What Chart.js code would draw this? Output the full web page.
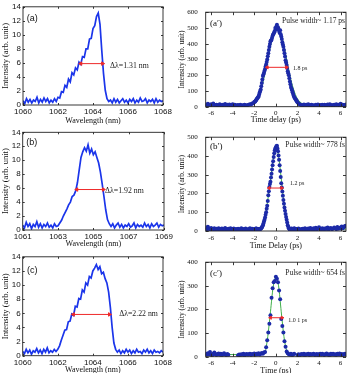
<!DOCTYPE html>
<html><head><meta charset="utf-8">
<script src="https://cdn.jsdelivr.net/npm/chart.js@4"></script>
<style>
html,body{margin:0;padding:0;background:#fff;}
#wrap{position:relative;width:352px;height:373px;overflow:hidden;background:#fff;}
canvas{position:absolute;}
</style></head><body>
<div id="wrap">
<canvas id="pa" width="176" height="125" style="left:0;top:0"></canvas>
<canvas id="pb" width="176" height="125" style="left:0;top:125px"></canvas>
<canvas id="pc" width="176" height="125" style="left:0;top:250px"></canvas>
<canvas id="pa2" width="176" height="125" style="left:176px;top:0"></canvas>
<canvas id="pb2" width="176" height="125" style="left:176px;top:125px"></canvas>
<canvas id="pc2" width="176" height="125" style="left:176px;top:250px"></canvas>
</div>
<script>
// ===== Spectra: intensity sampled every 0.1 nm from the start wavelength =====
const specA_start = 1060, specA_step = 0.1;
const specA = [
0.6,0.2,0.9,0.4,0.8,0.3,0.7,0.5,1.1,0.3,
0.8,0.4,1.0,0.5,0.9,0.3,0.7,0.4,0.9,0.5,
1.1,1.0,1.9,1.8,2.8,2.5,3.7,3.3,4.6,4.3,
5.3,5.0,6.1,5.8,6.9,6.8,8.0,8.0,9.4,9.5,
10.9,11.3,12.6,13.1,11.5,7.8,4.5,2.1,0.9,0.5,
0.7,0.3,0.9,0.4,0.8,0.3,0.6,0.9,0.4,0.7,
0.3,0.8,0.5,0.9,0.3,0.7,0.4,1.0,0.5,0.6,
0.9,0.3,0.7,0.5,0.8,0.3,0.9,0.4,0.7,0.5,
0.6];
const specB_start = 1061, specB_step = 0.1;
const specB = [
0.7,0.3,1.1,0.5,0.9,0.2,0.8,0.5,1.2,0.4,
0.9,0.3,0.8,0.5,1.0,0.4,0.7,0.3,0.9,0.5,
0.6,1.0,1.4,2.0,2.5,3.0,3.6,4.0,4.8,5.0,
5.6,6.8,8.6,10.4,11.2,11.8,11.3,12.2,11.0,11.6,
10.8,11.2,10.4,9.6,8.3,6.6,4.8,2.9,1.5,0.9,
0.5,0.9,0.3,0.7,1.0,0.4,0.8,0.3,0.7,0.5,
0.9,0.4,0.6,1.0,0.3,0.8,0.5,0.7,0.4,1.0,
0.5,0.8,0.3,0.9,0.5,0.7,1.0,0.4,0.8,0.6,
0.7];
const specC_start = 1060, specC_step = 0.1;
const specC = [
0.6,0.3,0.9,0.4,0.8,0.2,0.7,0.5,1.0,0.4,
0.8,0.3,0.9,0.5,1.1,0.4,0.7,0.5,0.9,0.6,
0.9,1.4,2.2,2.9,3.6,3.7,4.8,4.9,5.9,5.7,
7.0,6.9,8.1,8.0,9.3,9.0,10.3,10.0,11.2,11.0,
12.0,12.4,12.9,12.2,12.6,11.6,11.8,10.9,10.3,9.0,
6.8,4.0,1.8,0.9,0.5,0.8,0.3,0.7,0.4,0.9,
0.5,0.8,0.3,0.7,0.4,0.9,0.5,0.6,0.3,0.8,
0.5,0.9,0.4,0.7,0.3,0.8,0.5,0.6,0.4,0.7,
0.5];
// FWHM markers (wavelength ends, level)
const fwhmA_x = [1063.3, 1064.55], fwhmA_y = [5.9, 5.9];
const fwhmB_x = [1064.06, 1065.57], fwhmB_y = [5.8, 5.8];
const fwhmC_x = [1062.89, 1064.95], fwhmC_y = [5.84, 5.84];

// ===== Autocorrelation traces: sampled every 0.1 ps from start =====
const acA_start = -6.5, acA_step = 0.1;
const acA = [
14,9,18,11,7,15,10,21,12,8,
13,10,6,16,11,8,12,6,17,9,
12,7,14,6,10,15,8,12,5,10,
11,6,13,8,10,7,12,9,6,11,
12,15,14,20,22,30,35,45,55,65,
90,110,150,195,215,240,268,300,340,380,
415,425,450,465,480,490,520,505,480,485,
445,410,380,340,295,265,225,200,160,125,
105,80,62,50,40,28,20,15,12,8,
10,14,7,12,9,15,6,11,13,8,
10,6,12,9,14,7,11,8,13,6,
12,9,7,14,10,16,8,11,6,13,
9,15,7,12,10,18,8,13,11,9,
14];
const acAmid_start = -1.95, acAmid_step = 0.1;
const acAmid = [
32,40,50,60,78,100,130,172,205,228,
255,284,320,360,398,420,438,458,472,500,
510,500,492,470,460,430,395,360,318,280,
245,212,180,142,115,92,70,55,45,34];
const fitA_x = [-6.5,-3,-2.5,-2,-1.75,-1.5,-1.25,-1,-0.75,-0.5,-0.25,0,0.25,0.5,0.75,1,1.25,1.5,1.75,2,2.5,3,6.5];
const fitA_y = [9,9,13,30,52,88,140,215,300,385,455,495,498,458,388,300,215,142,88,50,17,10,9];

const acB_start = -6.5, acB_step = 0.1;
const acB = [
18,10,22,13,8,16,11,7,14,9,
12,6,15,10,8,13,7,11,16,9,
6,12,9,14,7,10,13,6,11,8,
12,7,10,15,8,11,6,13,9,7,
10,14,8,12,7,11,9,13,6,10,
8,12,18,30,50,72,100,135,190,235,
262,305,350,395,430,445,455,425,380,320,
255,210,165,125,90,60,30,15,8,12,
6,10,14,8,11,7,13,9,5,10,
12,8,15,10,6,13,9,16,11,8,
14,10,17,9,12,20,11,8,15,12,
9,14,11,18,8,13,16,10,12,19,
14,10,21,12,17,13,24,15,20,26,
28];
const acBmid_start = -1.95, acBmid_step = 0.1;
const acBmid = [
9,13,7,11,10,12,15,24,40,60,
86,118,160,212,250,285,328,372,415,440,
452,440,402,350,288,232,188,145,108,75,
45,22,11,9,13,7,10,12,8,11];
const fitB_x = [-6.5,-1.5,-1.25,-1,-0.75,-0.5,-0.25,0,0.25,0.5,0.75,1,1.25,1.5,6.5];
const fitB_y = [10,10,22,70,165,270,380,448,400,280,150,65,20,10,10];

const acC_start = -6.5, acC_step = 0.1;
const acC = [
12,8,15,10,20,9,6,13,18,10,
7,11,14,8,12,6,10,15,9,7,
11,8,null,null,null,null,null,null,null,null,
6,9,7,10,8,12,6,9,11,8,
10,13,7,11,9,14,8,12,10,15,
9,12,16,13,18,20,40,70,102,140,
175,250,290,315,320,338,330,315,280,243,
160,130,102,65,42,22,15,10,8,12,
6,9,12,null,null,7,10,5,9,11,
8,12,6,10,9,13,7,11,8,10,
12,7,9,11,6,10,13,8,12,9,
7,11,14,8,10,6,12,9,13,8,
10,7,12,9,14,8,11,6,10,12,
9];
const fitC_x = [-6.5,-1.5,-1.25,-1,-0.75,-0.5,-0.25,0,0.25,0.5,0.75,1,1.25,1.5,6.5];
const fitC_y = [9,9,10,20,85,190,295,335,300,190,85,25,10,9,9];

const fwhmA2_x = [-0.8, 1.0], fwhmA2_y = [250, 250];
const fwhmB2_x = [-0.63, 0.55], fwhmB2_y = [229, 229];
const fwhmC2_x = [-0.5, 0.58], fwhmC2_y = [165, 165];

// ===== Tick labels =====
const wlTicksAC = [1060,1062,1064,1066,1068];
const wlTicksB = [1061,1063,1065,1067,1069];
const specYTicks = [0,2,4,6,8,10,12,14];
const delayTicks = [-6,-4,-2,0,2,4,6];
const acYTicksA = [0,100,200,300,400,500,600];
const acYTicksB = [0,100,200,300,400,500];
const acYTicksC = [0,100,200,300,400];

// ===== helpers =====
const SERIF = "'Liberation Serif','Times New Roman',serif";
const SANS = "'Liberation Sans',Arial,sans-serif";
const BLUE = '#1b35ea', DOT = '#1c2aa8', GREEN = '#3fae49', RED = '#ee2a2a';

function gridPts(start, step, vals){
  return vals.map((v,i)=>({x: Math.round((start + i*step)*1000)/1000, y: v}));
}
function pairPts(xs, ys){ return xs.map((x,i)=>({x: x, y: ys[i]})); }

function boxPlugin(len, color, width){
  return {id:'boxTicks', afterDraw(chart){
    const {ctx, chartArea:a, scales:{x, y}} = chart;
    ctx.save();
    ctx.strokeStyle = color; ctx.lineWidth = width;
    ctx.beginPath();
    x.ticks.forEach(t=>{ const p = Math.round(x.getPixelForValue(t.value))+0.5;
      ctx.moveTo(p, a.bottom); ctx.lineTo(p, a.bottom-len);
      ctx.moveTo(p, a.top); ctx.lineTo(p, a.top+len); });
    y.ticks.forEach(t=>{ const p = Math.round(y.getPixelForValue(t.value))+0.5;
      ctx.moveTo(a.left, p); ctx.lineTo(a.left+len, p);
      ctx.moveTo(a.right, p); ctx.lineTo(a.right-len, p); });
    ctx.stroke();
    ctx.strokeRect(a.left, a.top, a.right-a.left, a.bottom-a.top);
    ctx.restore();
  }};
}
function notesPlugin(items){
  return {id:'notes', afterDraw(chart){
    const {ctx, scales:{x, y}} = chart;
    ctx.save();
    items.forEach(n=>{
      ctx.font = n.font; ctx.fillStyle = n.color || '#222';
      ctx.textAlign = n.align || 'left'; ctx.textBaseline = 'middle';
      ctx.fillText(n.text, x.getPixelForValue(n.x), y.getPixelForValue(n.y));
    });
    ctx.restore();
  }};
}

function panel(id, p){
  new Chart(document.getElementById(id), {
    type: 'scatter',
    data: {datasets: p.datasets},
    options: {
      responsive:false, animation:false, devicePixelRatio:1,
      layout:{padding:{left:0, top:p.top, right:p.right, bottom:0}},
      plugins:{legend:{display:false}, tooltip:{enabled:false}},
      scales:{
        x:{type:'linear', min:p.xmin, max:p.xmax,
          afterBuildTicks: s=>{ s.ticks = p.xticks.map(v=>({value:v})); },
          afterFit: s=>{ s.height = p.xh; },
          grid:{display:false, drawTicks:false}, border:{display:false},
          ticks:{padding:p.xtp, font:p.tickFont, color:'#111', maxRotation:0, autoSkip:false, callback:v=>String(v)},
          title:{display:true, text:p.xtitle, color:'#111', font:{family:SERIF, size:8, lineHeight:1}, padding:{top:0, bottom:p.xtb}}},
        y:{type:'linear', min:p.ymin, max:p.ymax,
          afterBuildTicks: s=>{ s.ticks = p.yticks.map(v=>({value:v})); },
          afterFit: s=>{ s.width = p.yw; },
          grid:{display:false, drawTicks:false}, border:{display:false},
          ticks:{padding:p.ytp, font:p.tickFont, color:'#111', autoSkip:false, callback:v=>String(v)},
          title:{display:true, text:'Intensity (arb. unit)', color:'#111', font:{family:SERIF, size:p.ytSize, lineHeight:1}, padding:{top:p.ytt, bottom:0}}}
      }
    },
    plugins:[notesPlugin(p.notes), boxPlugin(p.tickLen, '#222', 0.9)]
  });
}

function spectrumSets(pts, fx, fy){
  return [
    {data: pts, showLine:true, borderColor:BLUE, borderWidth:1.7, pointRadius:0, order:2},
    {data: pairPts(fx, fy), showLine:true, borderColor:RED, backgroundColor:RED, borderWidth:1,
     pointStyle:'triangle', pointRadius:2, rotation:[270,90], order:0}
  ];
}
function acSets(dots, fx, fy, ax, ay){
  return [
    {data: pairPts(ax, ay), showLine:true, borderColor:RED, backgroundColor:RED, borderWidth:1,
     pointStyle:'triangle', pointRadius:1.8, rotation:[270,90], order:0},
    {data: dots, showLine:false, pointRadius:2, backgroundColor:DOT, borderWidth:0, order:1},
    {data: pairPts(fx, fy), showLine:true, borderColor:GREEN, borderWidth:1, pointRadius:0, cubicInterpolationMode:'monotone', order:2}
  ];
}

const leftCommon = {tickFont:{family:SANS, size:8}, xtp:2, ytp:2, ytSize:8.5, ytt:2, tickLen:2, ymin:0, ymax:14, yticks:specYTicks, xtitle:'Wavelength (nm)'};
const rightCommon = {tickFont:{family:SERIF, size:7}, xtp:2.5, ytp:8, ytSize:7.5, ytt:2.2, tickLen:3, xmin:-6.5, xmax:6.5, xticks:delayTicks, right:6, yw:29.7};

panel('pa', Object.assign({}, leftCommon, {
  top:6, right:13, yw:23, xh:20, xtb:0.5, xmin:1060, xmax:1068, xticks:wlTicksAC,
  datasets: spectrumSets(gridPts(specA_start, specA_step, specA), fwhmA_x, fwhmA_y),
  notes:[{text:'(a)', x:1060.22, y:12.4, font:'9px '+SANS, color:'#111'},
         {text:'\u0394\u03bb=1.31 nm', x:1064.97, y:5.6, font:'7.8px '+SERIF}]
}));
panel('pb', Object.assign({}, leftCommon, {
  top:7.3, right:12, yw:22.7, xh:20, xtb:2, xmin:1061, xmax:1069, xticks:wlTicksB,
  datasets: spectrumSets(gridPts(specB_start, specB_step, specB), fwhmB_x, fwhmB_y),
  notes:[{text:'(b)', x:1061.2, y:12.6, font:'9px '+SANS, color:'#111'},
         {text:'\u0394\u03bb=1.92 nm', x:1065.66, y:5.6, font:'7.8px '+SERIF}]
}));
panel('pc', Object.assign({}, leftCommon, {
  top:6.7, right:13, yw:22.7, xh:19.3, xtb:1, xmin:1060, xmax:1068, xticks:wlTicksAC,
  datasets: spectrumSets(gridPts(specC_start, specC_step, specC), fwhmC_x, fwhmC_y),
  notes:[{text:'(c)', x:1060.25, y:12.0, font:'9px '+SANS, color:'#111'},
         {text:'\u0394\u03bb=2.22 nm', x:1065.5, y:5.9, font:'7.8px '+SERIF}]
}));
panel('pa2', Object.assign({}, rightCommon, {
  top:7.3, xh:18.3, xtb:1.5, ymin:0, ymax:600, yticks:acYTicksA, xtitle:'Time delay (ps)',
  datasets: acSets(gridPts(acA_start, acA_step, acA).concat(gridPts(acAmid_start, acAmid_step, acAmid)), fitA_x, fitA_y, fwhmA2_x, fwhmA2_y),
  notes:[{text:'(a\u2032)', x:-6.1, y:530, font:'9px '+SERIF, color:'#111'},
         {text:'Pulse width~ 1.17 ps', x:6.4, y:543, font:'7.5px '+SERIF, align:'right'},
         {text:'1.8 ps', x:1.6, y:245, font:'6px '+SERIF}]
}));
panel('pb2', Object.assign({}, rightCommon, {
  top:8.3, xh:19, xtb:0, ymin:0, ymax:500, yticks:acYTicksB, xtitle:'Time Delay (ps)',
  datasets: acSets(gridPts(acB_start, acB_step, acB).concat(gridPts(acBmid_start, acBmid_step, acBmid)), fitB_x, fitB_y, fwhmB2_x, fwhmB2_y),
  notes:[{text:'(b\u2032)', x:-6.1, y:449, font:'9px '+SERIF, color:'#111'},
         {text:'Pulse width~ 778 fs', x:6.4, y:457, font:'7.5px '+SERIF, align:'right'},
         {text:'1.2 ps', x:1.31, y:252, font:'6px '+SERIF}]
}));
panel('pc2', Object.assign({}, rightCommon, {
  top:7.3, xh:18.3, xtb:0, ymin:0, ymax:400, yticks:acYTicksC, xtitle:'Time (ps)',
  datasets: acSets(gridPts(acC_start, acC_step, acC), fitC_x, fitC_y, fwhmC2_x, fwhmC2_y),
  notes:[{text:'(c\u2032)', x:-6.1, y:352, font:'9px '+SERIF, color:'#111'},
         {text:'Pulse width~ 654 fs', x:6.4, y:356, font:'7.5px '+SERIF, align:'right'},
         {text:'1.0 1 ps', x:1.15, y:154, font:'6px '+SERIF}]
}));
</script>
</body></html>
